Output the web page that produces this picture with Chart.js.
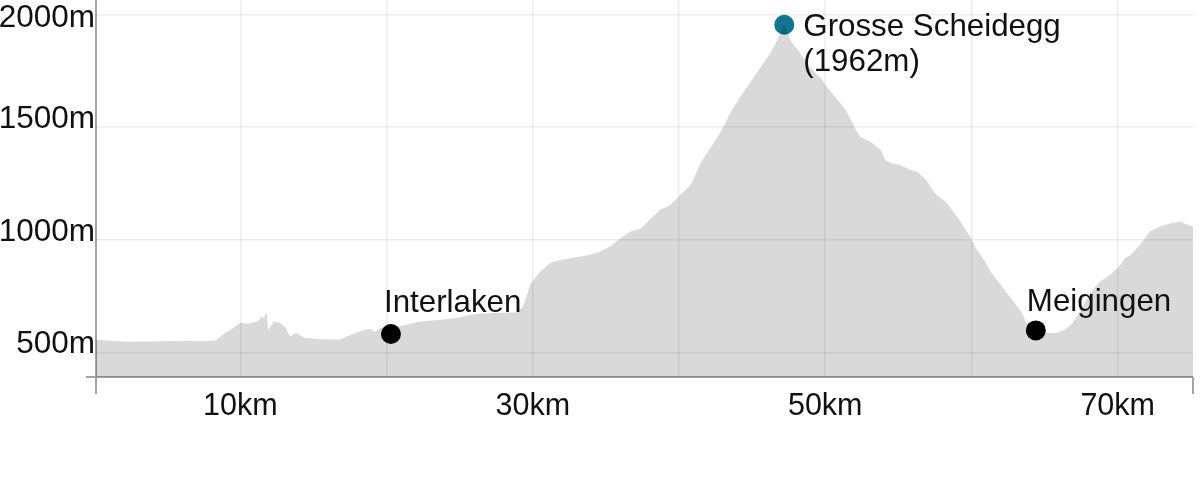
<!DOCTYPE html>
<html><head><meta charset="utf-8">
<script src="https://cdn.jsdelivr.net/npm/chart.js@4/dist/chart.umd.min.js"></script>
<style>html,body{margin:0;padding:0;background:#fff}#wrap{width:1200px;height:500px}</style>
</head><body><div id="wrap"><canvas id="c" width="1200" height="500"></canvas></div>
<script>
// ---- data ----
const profileKm = [
  0.13,1.1,2.5,3.8,5.2,6.6,7.6,8.3,8.8,9.3,
  10.0,10.5,11.2,11.5,11.6,11.8,11.9,12.3,12.7,13.1,
  13.4,13.8,14.4,15.5,16.8,17.5,18.5,18.9,19.2,19.6,
  20.3,20.9,21.6,22.3,23.7,25.0,25.7,26.4,27.8,28.8,
  29.3,29.5,29.8,30.5,31.2,31.9,32.6,33.9,34.6,35.3,
  36.0,36.7,37.4,38.0,38.7,39.4,40.1,40.8,41.5,42.8,
  43.5,44.2,44.9,45.6,46.3,46.9,47.2,47.6,48.3,49.0,
  49.7,50.1,50.7,51.4,51.7,52.1,52.4,53.1,53.8,54.1,
  54.5,55.1,55.8,56.3,56.9,57.5,58.3,59.2,59.9,60.3,
  61.0,61.3,62.0,62.7,63.4,63.7,64.0,64.4,65.1,65.8,
  66.4,66.9,67.5,68.1,68.8,69.5,70.2,70.5,70.9,71.6,
  72.2,72.9,73.6,74.3,74.6,75.15
];
const profileElev = [
  556,552,548,549,551,552,550,553,580,600,
  632,628,638,663,650,682,601,636,632,610,
  571,587,565,559,556,578,601,605,592,609,
  612,615,628,637,645,655,667,672,676,677,
  700,734,800,859,897,911,919,933,948,970,
  1007,1037,1052,1089,1133,1155,1200,1244,1345,1473,
  1562,1636,1702,1769,1835,1910,1962,1887,1828,1762,
  1717,1680,1633,1577,1540,1488,1458,1436,1399,1355,
  1340,1333,1311,1303,1266,1207,1165,1086,1015,963,
  897,859,800,741,682,638,615,598,586,586,
  601,630,689,763,815,845,889,919,933,985,
  1037,1059,1074,1081,1071,1059
];
const placeNames = [['Interlaken'], ['Grosse Scheidegg', '(1962m)'], ['Meigingen']];
const placeKm = [20.3, 47.2, 64.4];
const placeElev = [582, 1955, 598];
const xTickValues = [10, 20, 30, 40, 50, 60, 70];
const xTickLabels = ['10km', '', '30km', '', '50km', '', '70km'];
const yTickValues = [500, 1000, 1500, 2000];
const yTickLabels = ['500m', '1000m', '1500m', '2000m'];

// ---- styles / layout ----
const X_MIN = 0.13, X_MAX = 75.15, Y_MIN = 391, Y_MAX = 2065;
const FONT = '"Liberation Sans", Arial, Helvetica, sans-serif';
const AXIS = '#a3a3a3';
const GRID = 'rgba(0,0,0,0.07)';
const NONE = 'rgba(0,0,0,0)';
const placeColors = ['#000000', '#0f7590', '#000000'];
const placeLabelOffsets = [
  {dx: -7, dy: -22},
  {dx: 19, dy: 11},
  {dx: -9, dy: -19}
];

const yLabelPlugin = {
  id: 'yLabels',
  afterDraw(chart) {
    const s = chart.scales.y, ctx = chart.ctx;
    ctx.save();
    ctx.font = '31.5px ' + FONT;
    ctx.fillStyle = '#111';
    ctx.textAlign = 'right';
    ctx.textBaseline = 'middle';
    yTickValues.forEach((v, i) => {
      const py = Math.max(s.getPixelForValue(v) - 8, 18);
      ctx.fillText(yTickLabels[i], chart.chartArea.left - 1, py);
    });
    ctx.restore();
  }
};

const placeLabelPlugin = {
  id: 'placeLabels',
  afterDatasetsDraw(chart) {
    const meta = chart.getDatasetMeta(1), ctx = chart.ctx;
    ctx.save();
    ctx.font = '31.3px ' + FONT;
    ctx.fillStyle = '#111';
    ctx.textAlign = 'left';
    ctx.textBaseline = 'alphabetic';
    meta.data.forEach((pt, i) => {
      const o = placeLabelOffsets[i];
      placeNames[i].forEach((line, j) => {
        ctx.fillText(line, pt.x + o.dx, pt.y + o.dy + j * 35);
      });
    });
    ctx.restore();
  }
};

const isVal = (ctx, v) => ctx.tick && Math.abs(ctx.tick.value - v) < 1e-9;

new Chart(document.getElementById('c'), {
  type: 'line',
  data: {
    datasets: [
      {
        data: profileKm.map((k, i) => ({x: k, y: profileElev[i]})),
        fill: 'start',
        backgroundColor: 'rgba(0,0,0,0.15)',
        borderWidth: 0,
        borderColor: NONE,
        pointRadius: 0,
        tension: 0
      },
      {
        data: placeKm.map((k, i) => ({x: k, y: placeElev[i]})),
        showLine: false,
        pointRadius: 10,
        pointBorderWidth: 0,
        pointBackgroundColor: placeColors,
        pointBorderColor: placeColors,
        clip: false
      }
    ]
  },
  options: {
    responsive: false,
    devicePixelRatio: 1,
    animation: false,
    events: [],
    layout: {autoPadding: false, padding: {left: 0, right: 7, top: 0, bottom: 0}},
    plugins: {legend: {display: false}, tooltip: {enabled: false}},
    scales: {
      x: {
        type: 'linear',
        min: X_MIN, max: X_MAX,
        afterBuildTicks: s => { s.ticks = [X_MIN, ...xTickValues, X_MAX].map(v => ({value: v})); },
        afterFit: s => { s.height = 123; },
        border: {display: false},
        grid: {
          color: c => isVal(c, X_MIN) ? AXIS : (isVal(c, X_MAX) ? NONE : GRID),
          tickColor: c => (isVal(c, X_MIN) || isVal(c, X_MAX)) ? AXIS : NONE,
          lineWidth: c => (isVal(c, X_MIN) || isVal(c, X_MAX)) ? 2 : 1.5,
          tickWidth: 2,
          tickLength: 17,
          drawTicks: true
        },
        ticks: {
          autoSkip: false, maxRotation: 0, minRotation: 0,
          padding: -6,
          color: '#111',
          font: {family: FONT, size: 30.5},
          callback: v => { const k = xTickValues.indexOf(v); return k >= 0 ? xTickLabels[k] : ''; }
        }
      },
      y: {
        min: Y_MIN, max: Y_MAX,
        afterBuildTicks: s => { s.ticks = [Y_MIN, ...yTickValues].map(v => ({value: v})); },
        afterFit: s => { s.width = 96; },
        border: {display: false},
        grid: {
          color: c => isVal(c, Y_MIN) ? AXIS : GRID,
          tickColor: c => isVal(c, Y_MIN) ? AXIS : NONE,
          lineWidth: c => isVal(c, Y_MIN) ? 2 : 1.5,
          tickWidth: 2,
          tickLength: 10,
          drawTicks: true
        },
        ticks: {display: false}
      }
    }
  },
  plugins: [yLabelPlugin, placeLabelPlugin]
});
</script>
</body></html>
